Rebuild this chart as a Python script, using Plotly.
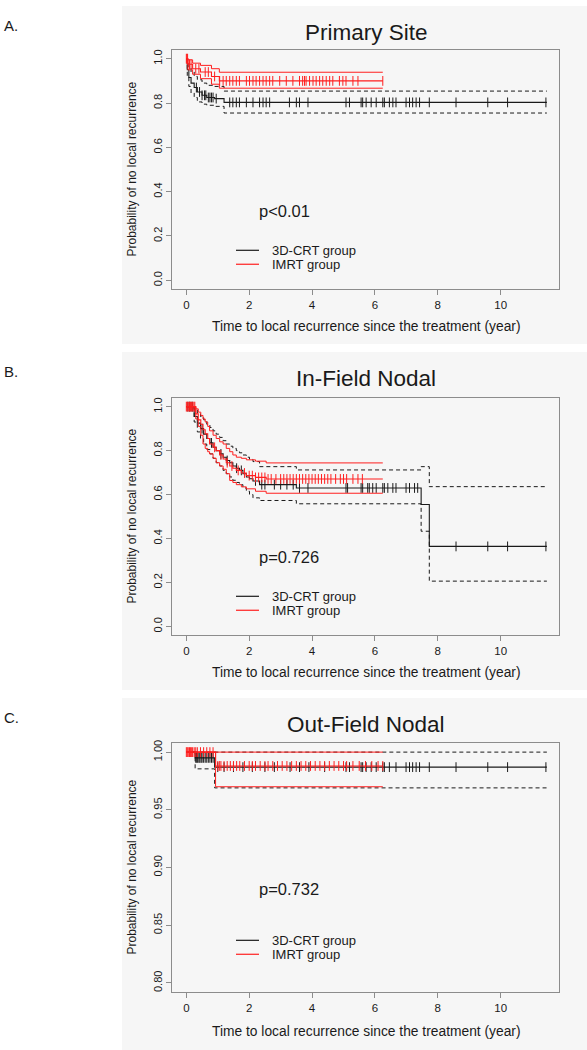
import numpy as np
import plotly.graph_objects as go

# ---------------- data ----------------
X_TICKS = [0, 2, 4, 6, 8, 10]
Y_TICKS_AB = [0.0, 0.2, 0.4, 0.6, 0.8, 1.0]
Y_TICKS_C = [0.80, 0.85, 0.90, 0.95, 1.00]

TITLES = ["Primary Site", "In-Field Nodal", "Out-Field Nodal"]
P_TEXTS = ["p<0.01", "p=0.726", "p=0.732"]
PANEL_LABELS = ["A.", "B.", "C."]
GROUPS = ["3D-CRT group", "IMRT group"]
X_TITLE = "Time to local recurrence since the treatment (year)"
Y_TITLE = "Probability of no local recurrence"

# Panel A - Primary Site
crt_a_t = [0, 0.03, 0.08, 0.15, 0.25, 0.35, 0.5, 0.65, 0.9, 1.2, 11.47]
crt_a_s = [1.0, 0.95, 0.915, 0.89, 0.87, 0.85, 0.835, 0.825, 0.82, 0.803, 0.803]
crt_a_up = [1.0, 0.985, 0.96, 0.94, 0.92, 0.905, 0.89, 0.88, 0.875, 0.854, 0.854]
crt_a_lo = [1.0, 0.915, 0.875, 0.845, 0.825, 0.805, 0.795, 0.79, 0.785, 0.755, 0.755]
crt_a_cens = [0.32, 0.42, 0.5, 0.58, 0.62, 0.7, 0.75, 0.8, 0.85, 0.95, 1.38, 1.48, 1.59,
              1.69, 1.91, 2.12, 2.33, 2.44, 2.54, 2.65, 3.28, 3.5, 3.6, 3.87, 5.08, 5.19,
              5.56, 5.61, 5.72, 5.88, 6.04, 6.25, 6.3, 6.46, 6.57, 6.67, 6.99, 7.1, 7.2,
              7.31, 7.42, 7.73, 8.58, 9.59, 10.22, 11.44]
imrt_a_t = [0, 0.05, 0.2, 0.45, 0.8, 1.05, 6.25]
imrt_a_s = [1.0, 0.975, 0.955, 0.94, 0.92, 0.90, 0.90]
imrt_a_up = [1.0, 0.995, 0.98, 0.97, 0.955, 0.939, 0.939]
imrt_a_lo = [1.0, 0.95, 0.93, 0.91, 0.885, 0.867, 0.867]
imrt_a_cens = [0.0, 0.02, 0.04, 0.1, 0.15, 0.3, 0.4, 0.6, 0.7, 0.9, 1.06, 1.17, 1.27, 1.38,
               1.48, 1.59, 1.69, 1.91, 2.01, 2.12, 2.22, 2.33, 2.44, 2.54, 2.65, 2.75, 2.97,
               3.18, 3.39, 3.6, 3.7, 3.76, 3.81, 3.92, 4.03, 4.13, 4.24, 4.34, 4.45, 4.56,
               4.66, 4.87, 4.98, 5.08, 5.3, 5.46, 6.25]

# Panel B - In-Field Nodal
crt_b_t = [0, 0.25, 0.35, 0.45, 0.55, 0.65, 0.75, 0.85, 0.95, 1.06, 1.17, 1.27, 1.38, 1.48,
           1.59, 1.69, 1.8, 1.91, 2.01, 2.12, 2.33, 3.5, 7.47, 7.73, 11.47]
crt_b_s = [1.0, 0.955, 0.925, 0.9, 0.875, 0.855, 0.835, 0.815, 0.8, 0.785, 0.77, 0.755, 0.745,
           0.73, 0.72, 0.71, 0.695, 0.68, 0.672, 0.662, 0.645, 0.63, 0.555, 0.364, 0.364]
crt_b_up = [1.0, 0.99, 0.97, 0.955, 0.94, 0.92, 0.905, 0.89, 0.875, 0.86, 0.845, 0.83, 0.82,
            0.81, 0.8, 0.79, 0.78, 0.77, 0.76, 0.75, 0.727, 0.712, 0.727, 0.636, 0.636]
crt_b_lo = [1.0, 0.93, 0.885, 0.855, 0.83, 0.805, 0.785, 0.765, 0.745, 0.73, 0.71, 0.695, 0.68,
            0.665, 0.655, 0.645, 0.63, 0.615, 0.6, 0.585, 0.573, 0.558, 0.433, 0.206, 0.206]
crt_b_cens = [0.05, 0.1, 0.15, 0.2, 0.5, 0.8, 1.1, 1.3, 1.6, 1.75, 2.2, 2.4, 2.5, 2.8, 3.0,
              3.2, 3.4, 3.6, 3.87, 5.08, 5.13, 5.56, 5.61, 5.77, 5.82, 5.93, 6.04, 6.25, 6.3,
              6.41, 6.57, 6.67, 6.99, 7.1, 7.26, 7.36, 8.58, 9.59, 10.22, 11.44]
imrt_b_t = [0, 0.3, 0.38, 0.46, 0.53, 0.6, 0.68, 0.74, 0.85, 0.95, 1.06, 1.17, 1.27, 1.38,
            1.48, 1.59, 1.75, 1.91, 2.2, 2.54, 6.25]
imrt_b_s = [1.0, 0.967, 0.94, 0.92, 0.895, 0.876, 0.855, 0.83, 0.815, 0.8, 0.78, 0.762, 0.745,
            0.73, 0.72, 0.71, 0.698, 0.686, 0.678, 0.671, 0.671]
imrt_b_up = [1.0, 0.99, 0.975, 0.96, 0.944, 0.93, 0.91, 0.89, 0.87, 0.855, 0.84, 0.83, 0.81,
             0.795, 0.78, 0.77, 0.765, 0.758, 0.752, 0.744, 0.744]
imrt_b_lo = [1.0, 0.944, 0.91, 0.87, 0.83, 0.81, 0.795, 0.785, 0.765, 0.745, 0.73, 0.715, 0.695,
             0.664, 0.655, 0.645, 0.635, 0.626, 0.615, 0.606, 0.606]
imrt_b_cens = [0.0, 0.03, 0.06, 0.1, 0.13, 0.16, 0.2, 0.24, 0.27, 0.9, 1.1, 1.3, 1.45, 1.65,
               1.85, 2.0, 2.1, 2.2, 2.3, 2.4, 2.5, 2.6, 2.7, 2.85, 3.0, 3.1, 3.2, 3.3, 3.4,
               3.5, 3.6, 3.7, 3.8, 3.9, 4.0, 4.1, 4.2, 4.3, 4.4, 4.5, 4.6, 4.75, 4.9, 5.0,
               5.1, 5.3, 5.46, 5.6]

# Panel C - Out-Field Nodal
crt_c_t = [0, 0.28, 0.9, 11.47]
crt_c_s = [1.0, 0.995, 0.987, 0.987]
crt_c_up = [1.0, 1.0, 1.0, 1.0]
crt_c_lo = [1.0, 0.9855, 0.969, 0.969]
crt_c_cens = [0.3, 0.33, 0.36, 0.4, 0.43, 0.47, 0.5, 0.55, 0.6, 0.65, 0.7, 0.75, 0.8, 0.85,
              1.0, 1.2, 1.5, 1.8, 2.1, 2.5, 2.8, 3.3, 3.6, 3.9, 4.4, 5.08, 5.19, 5.56, 5.61,
              5.72, 5.88, 6.04, 6.25, 6.3, 6.46, 6.67, 6.99, 7.1, 7.2, 7.31, 7.42, 7.73,
              8.58, 9.59, 10.22, 11.44]
imrt_c_t = [0, 0.93, 6.25]
imrt_c_s = [1.0, 0.988, 0.988]
imrt_c_up = [1.0, 1.0, 1.0]
imrt_c_lo = [1.0, 0.970, 0.970]
imrt_c_cens = [0.0, 0.03, 0.06, 0.1, 0.13, 0.16, 0.2, 0.25, 0.3, 0.35, 0.45, 0.55, 0.65,
               0.75, 0.85, 1.0, 1.05, 1.1, 1.2, 1.3, 1.4, 1.5, 1.6, 1.7, 1.85, 2.0, 2.1,
               2.2, 2.35, 2.5, 2.6, 2.75, 2.9, 3.05, 3.2, 3.35, 3.5, 3.65, 3.8, 3.95, 4.1,
               4.25, 4.4, 4.55, 4.7, 4.85, 5.0, 5.1, 5.3, 5.5, 5.7, 5.9, 6.1, 6.25]

# ---------------- styling / layout ----------------
W, H = 587, 1050
BLACK = "#1a1a1a"
RED = "#ff1f1f"
BOXC = "#8c8c8c"
PANEL_BG = "#f6f6f6"
TXT = "#1a1a1a"
FONT = "Liberation Sans, Arial, sans-serif"


def fx(p):
    return p / W


def fy(p):
    return 1 - p / H


PANELS = [
    dict(bg=(3, 342), box=(47, 287), title=30, p=209, leg=(248, 262), lab=23, xt=324,
         yr=[-0.04, 1.04], yt=Y_TICKS_AB, fmt=".1f"),
    dict(bg=(350, 689), box=(396, 634), title=377, p=556, leg=(595, 609), lab=370, xt=671,
         yr=[-0.04, 1.04], yt=Y_TICKS_AB, fmt=".1f"),
    dict(bg=(697, 1050), box=(742, 992), title=724, p=889, leg=(940, 954), lab=717, xt=1031,
         yr=[0.792, 1.008], yt=Y_TICKS_C, fmt=".2f"),
]
BOX_X = (172, 559)
XR = [-0.456, 11.856]

DATA = [
    ((crt_a_t, crt_a_s, crt_a_up, crt_a_lo, crt_a_cens),
     (imrt_a_t, imrt_a_s, imrt_a_up, imrt_a_lo, imrt_a_cens)),
    ((crt_b_t, crt_b_s, crt_b_up, crt_b_lo, crt_b_cens),
     (imrt_b_t, imrt_b_s, imrt_b_up, imrt_b_lo, imrt_b_cens)),
    ((crt_c_t, crt_c_s, crt_c_up, crt_c_lo, crt_c_cens),
     (imrt_c_t, imrt_c_s, imrt_c_up, imrt_c_lo, imrt_c_cens)),
]


def step_at(t, s, tc):
    t = np.asarray(t)
    s = np.asarray(s)
    idx = np.searchsorted(t, np.asarray(tc), side="right") - 1
    return s[np.clip(idx, 0, len(s) - 1)]


fig = go.Figure()
shapes = []
annotations = []
layout_axes = {}

for i, (pan, groups) in enumerate(zip(PANELS, DATA)):
    n = "" if i == 0 else str(i + 1)
    xa, ya = "x" + n, "y" + n
    for g, (t, s, up, lo, cens) in enumerate(groups):
        col = BLACK if g == 0 else RED
        for arr in (up, lo):
            fig.add_trace(go.Scatter(x=t, y=arr, mode="lines", line_shape="hv",
                                     line=dict(color=col, width=1,
                                               dash="4px,3px" if g == 0 else "solid"),
                                     xaxis=xa, yaxis=ya, showlegend=False, hoverinfo="skip"))
        fig.add_trace(go.Scatter(x=t, y=s, mode="lines", line_shape="hv",
                                 line=dict(color=col, width=1.1), name=GROUPS[g],
                                 xaxis=xa, yaxis=ya, showlegend=False))
        fig.add_trace(go.Scatter(x=cens, y=step_at(t, s, cens), mode="markers",
                                 marker=dict(symbol="line-ns-open", size=7, color=col,
                                             line=dict(color=col, width=1)),
                                 xaxis=xa, yaxis=ya, showlegend=False, hoverinfo="skip"))

    top, bot = pan["box"]
    layout_axes["xaxis" + n] = dict(
        domain=[fx(BOX_X[0]), fx(BOX_X[1])], range=XR, anchor=ya,
        tickvals=X_TICKS, ticktext=[str(v) for v in X_TICKS], ticks="outside", ticklen=5,
        tickcolor=BOXC, showline=True, mirror=True, linecolor=BOXC, linewidth=1,
        showgrid=False, zeroline=False, tickfont=dict(size=11.5, color=TXT, family=FONT))
    layout_axes["yaxis" + n] = dict(
        domain=[fy(bot), fy(top)], range=pan["yr"], anchor=xa,
        tickvals=pan["yt"], tickformat=pan["fmt"], ticks="outside", ticklen=5,
        tickcolor=BOXC, showline=True, mirror=True, linecolor=BOXC, linewidth=1,
        showgrid=False, zeroline=False, tickangle=-90,
        tickfont=dict(size=11, color=TXT, family=FONT))

    shapes.append(dict(type="rect", xref="paper", yref="paper", x0=fx(122), x1=1.0,
                       y0=fy(pan["bg"][1]), y1=fy(pan["bg"][0]), fillcolor=PANEL_BG,
                       line=dict(width=0), layer="below"))
    for g, ly in enumerate(pan["leg"]):
        shapes.append(dict(type="line", xref="paper", yref="paper", x0=fx(236), x1=fx(259),
                           y0=fy(ly), y1=fy(ly),
                           line=dict(color=BLACK if g == 0 else RED, width=1.2)))
        annotations.append(dict(text=GROUPS[g], xref="paper", yref="paper", x=fx(270),
                                y=fy(ly), xanchor="left", yanchor="middle", showarrow=False,
                                font=dict(size=13, color=TXT, family=FONT)))
    annotations += [
        dict(text=TITLES[i], xref="paper", yref="paper", x=fx(366), y=fy(pan["title"]),
             xanchor="center", yanchor="middle", showarrow=False,
             font=dict(size=22.5, color=TXT, family=FONT)),
        dict(text=P_TEXTS[i], xref="paper", yref="paper", x=fx(257), y=fy(pan["p"]),
             xanchor="left", yanchor="middle", showarrow=False,
             font=dict(size=16.5, color=TXT, family=FONT)),
        dict(text=PANEL_LABELS[i], xref="paper", yref="paper", x=fx(2), y=fy(pan["lab"]),
             xanchor="left", yanchor="middle", showarrow=False,
             font=dict(size=15, color=TXT, family=FONT)),
        dict(text=X_TITLE, xref="paper", yref="paper", x=fx(366), y=fy(pan["xt"]),
             xanchor="center", yanchor="middle", showarrow=False,
             font=dict(size=13.8, color=TXT, family=FONT)),
        dict(text=Y_TITLE, xref="paper", yref="paper", x=fx(132),
             y=fy((top + bot) / 2), xanchor="center", yanchor="middle", showarrow=False,
             textangle=-90, font=dict(size=12, color=TXT, family=FONT)),
    ]

fig.update_layout(width=W, height=H, margin=dict(l=0, r=0, t=0, b=0),
                  paper_bgcolor="white", plot_bgcolor="rgba(0,0,0,0)",
                  shapes=shapes, annotations=annotations, showlegend=False,
                  **layout_axes)
fig.write_html("out.html", config={"displayModeBar": False},
               post_script="document.body.style.margin='0px';"
                           "document.body.style.overflow='hidden';")
